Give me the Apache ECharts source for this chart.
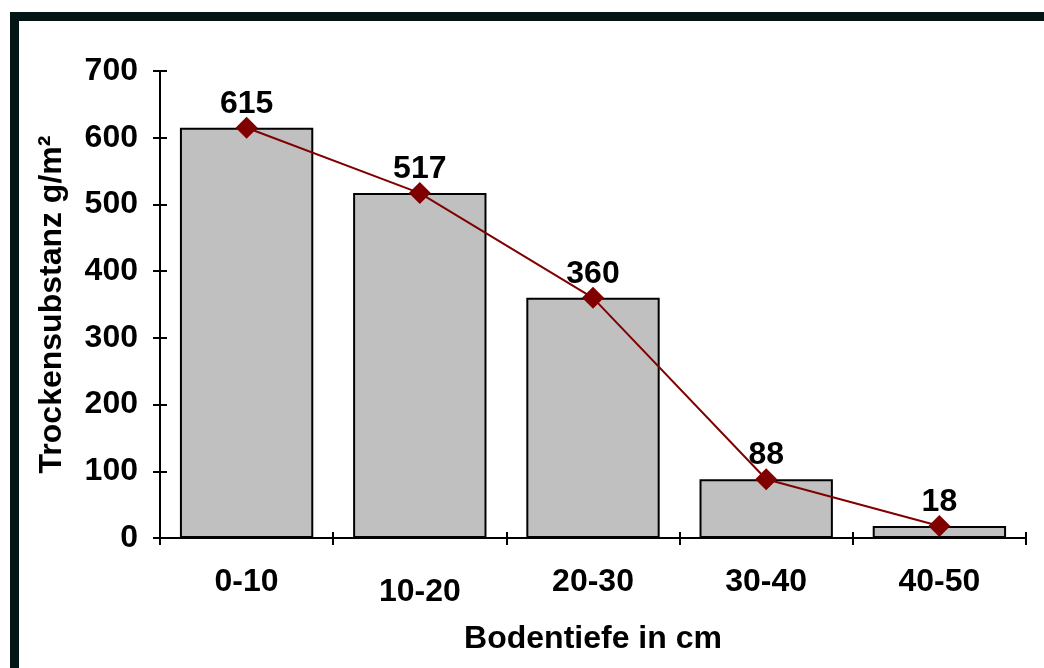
<!DOCTYPE html>
<html>
<head>
<meta charset="utf-8">
<script src="https://cdn.jsdelivr.net/npm/echarts@6/dist/echarts.min.js"></script>
<style>
html,body{margin:0;padding:0;background:#fff;}
#chart{width:1044px;height:668px;}
</style>
</head>
<body>
<div id="chart"></div>
<script>
var categories = ['0-10', '10-20', '20-30', '30-40', '40-50'];
var barValues = [615, 517, 360, 88, 18];
var lineValues = [615, 517, 360, 88, 18];
var yTicks = [0, 100, 200, 300, 400, 500, 600, 700];
var xTitle = 'Bodentiefe in cm';
var yTitle = 'Trockensubstanz g/m²';

var FONT = '"Liberation Sans", Arial, sans-serif';
var FS = 32;
var chart = echarts.init(document.getElementById('chart'), null, {renderer: 'canvas'});

var xData = categories.map(function (c, i) {
  return i === 1 ? {value: c, textStyle: {padding: [10, 0, 0, 0]}} : c;
});

var yMax = yTicks[yTicks.length - 1];
var yInterval = yTicks[1] - yTicks[0];

var option = {
  animation: false,
  backgroundColor: '#ffffff',
  textStyle: {fontFamily: FONT},
  graphic: [
    {type: 'rect', shape: {x: 10, y: 12, width: 1034, height: 9}, style: {fill: '#031515'}, z: 100},
    {type: 'rect', shape: {x: 10, y: 12, width: 9, height: 656}, style: {fill: '#031515'}, z: 100}
  ],
  grid: {left: 160, right: 18, top: 71, bottom: 130},
  xAxis: [{
    type: 'category',
    data: xData,
    boundaryGap: true,
    axisLine: {show: true, lineStyle: {color: '#000', width: 2}},
    axisTick: {show: true, length: 7, lineStyle: {color: '#000', width: 2}},
    axisLabel: {color: '#000', fontSize: FS, fontWeight: 'bold', fontFamily: FONT, margin: 28, interval: 0},
    name: xTitle,
    nameLocation: 'middle',
    nameGap: 85,
    nameTextStyle: {color: '#000', fontSize: FS, fontWeight: 'bold', fontFamily: FONT}
  }, {
    type: 'category',
    data: categories,
    position: 'bottom',
    boundaryGap: true,
    axisLine: {show: false},
    axisTick: {show: true, inside: true, length: 6, lineStyle: {color: '#000', width: 2}},
    axisLabel: {show: false}
  }],
  yAxis: [{
    type: 'value',
    min: 0,
    max: yMax,
    interval: yInterval,
    splitLine: {show: false},
    axisLine: {show: true, lineStyle: {color: '#000', width: 2}},
    axisTick: {show: true, length: 7, lineStyle: {color: '#000', width: 2}},
    axisLabel: {color: '#000', fontSize: FS, fontWeight: 'bold', fontFamily: FONT, margin: 22},
    name: yTitle,
    nameLocation: 'middle',
    nameGap: 92,
    nameTextStyle: {color: '#000', fontSize: FS, fontWeight: 'bold', fontFamily: FONT}
  }, {
    type: 'value',
    min: 0,
    max: yMax,
    interval: yInterval,
    position: 'left',
    splitLine: {show: false},
    axisLine: {show: false},
    axisTick: {show: true, inside: true, length: 7, lineStyle: {color: '#000', width: 2}},
    axisLabel: {show: false}
  }],
  series: [{
    type: 'bar',
    data: barValues,
    barWidth: '77%',
    itemStyle: {color: '#c0c0c0', borderColor: '#000', borderWidth: 2},
    z: 2
  }, {
    type: 'line',
    data: lineValues,
    symbol: 'diamond',
    symbolSize: 22,
    lineStyle: {color: '#800000', width: 2},
    itemStyle: {color: '#800000'},
    label: {show: true, position: 'top', distance: 6, offset: [0, 9], color: '#000', fontSize: FS, fontWeight: 'bold', fontFamily: FONT},
    z: 3
  }]
};
chart.setOption(option);
</script>
</body>
</html>
